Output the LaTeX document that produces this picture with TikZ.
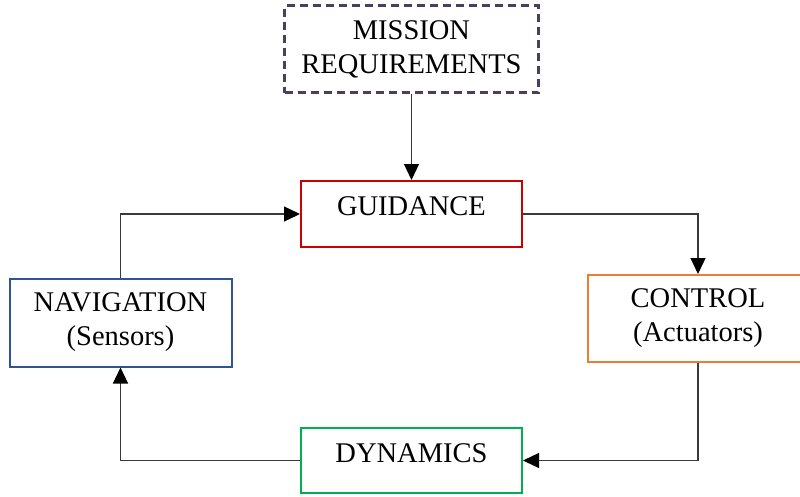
\documentclass[tikz,border=0pt]{standalone}
\usepackage{fontspec}
\setmainfont{Liberation Serif}
\usetikzlibrary{arrows.meta}
\definecolor{guidred}{HTML}{CC0000}
\definecolor{navblue}{HTML}{2F5597}
\definecolor{ctrlorange}{HTML}{ED7D31}
\definecolor{dyngreen}{HTML}{00B050}
\definecolor{missgray}{HTML}{4A3F5C}
\definecolor{linkgray}{HTML}{3A3A3A}
\begin{document}
\begin{tikzpicture}[x=1pt,y=-1pt,
  every node/.style={font=\fontsize{28.5}{34}\selectfont, align=center},
  blockbox/.style={draw, line width=2pt, fill=white, inner sep=0pt},
  link/.style={draw=linkgray, line width=1.3pt, -{Triangle[length=16pt,width=15pt,color=black]}}]
\useasboundingbox (0,0) rectangle (800,496);
\node[blockbox, draw=missgray, line width=2.5pt, dash pattern=on 8pt off 5pt,
  minimum width=254pt, minimum height=87pt] (m) at (411.5,49) {MISSION\\REQUIREMENTS};
\node[blockbox, draw=guidred, minimum width=221pt, minimum height=66pt,
  label={[yshift=8pt]center:GUIDANCE}] (g) at (411.5,214) {};
\node[blockbox, draw=navblue, minimum width=222pt, minimum height=88pt] (n) at (120.5,322.5) {NAVIGATION\\(Sensors)};
\node[blockbox, draw=ctrlorange, minimum width=220pt, minimum height=87pt] (c) at (698,318.5) {CONTROL\\(Actuators)};
\node[blockbox, draw=dyngreen, minimum width=221pt, minimum height=65pt,
  label={[yshift=7pt]center:DYNAMICS}] (d) at (411.5,460.5) {};
\draw[link] (m.south) -- (g.north);
\draw[link] (g.east) -| (c.north);
\draw[link] (c.south) |- (d.east);
\draw[link] (d.west) -| (n.south);
\draw[link] (n.north) |- (g.west);
\end{tikzpicture}
\end{document}
